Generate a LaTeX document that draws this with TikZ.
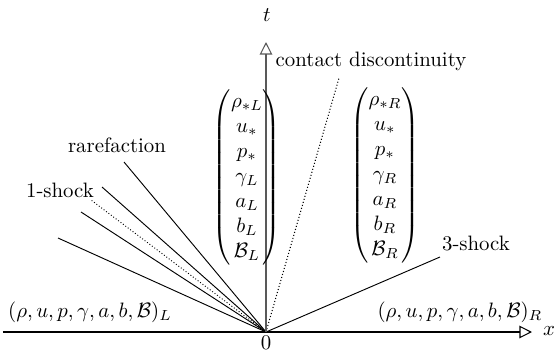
\documentclass[tikz,border=0pt]{standalone}
\usepackage{amsmath,amssymb}
\usepackage{tikz}
\usetikzlibrary{arrows,arrows.meta,calc,positioning}

\tikzset{
    axis/.style={-{Triangle[open,length=6pt,width=6pt]}, line width=0.5pt},
    wave/.style={line width=0.45pt},
    contact/.style={densely dotted, line width=0.5pt},
    state/.style={inner sep=0pt, outer sep=0pt}
}

\begin{document}
\begin{tikzpicture}[x=0.48pt,y=-0.48pt]
        \useasboundingbox (0,0) rectangle (559,352);
        \coordinate (O) at (266,332);
        \coordinate (xl) at (3,332);
        \coordinate (xr) at (532,332);
        \coordinate (tt) at (266,42);
        % waves
        \foreach \name/\px/\py in {s1/58/238, r1/81/212, r2/102/187, r3/124/162} {
            \coordinate (\name) at (\px,\py);
            \draw[wave] (O) -- (\name);
        }
        \coordinate (r0) at (91,200);
        \draw[densely dotted, line width=0.45pt] (O) -- (r0);
        \coordinate (cd) at (339,78);
        \draw[contact] (O) -- (cd);
        \coordinate (s3) at (440,257);
        \draw[wave] (O) -- (s3);
        % axes
        \draw[axis] (xl) -- (xr);
        \draw[axis, gray!70!black] (O) -- (tt);
        \node[state] (xlab) at (549,331) {$x$};
        \node[state] (tlab) at (267,15) {$t$};
        \node[state] (zero) at (266,343) {$0$};
        % states
        \node[state] (starL) at (247,177.5)
            {$\setlength{\arraycolsep}{3pt}\begin{pmatrix}\rho_{*L}\\ u_*\\ p_*\\ \gamma_L\\ a_L\\ b_L\\ \mathcal{B}_L\end{pmatrix}$};
        \node[state] (starR) at (385,175.5)
            {$\setlength{\arraycolsep}{3pt}\begin{pmatrix}\rho_{*R}\\ u_*\\ p_*\\ \gamma_R\\ a_R\\ b_R\\ \mathcal{B}_R\end{pmatrix}$};
        \node[state] (left) at (90,312) {$(\rho,u,p,\gamma,a,b,\mathcal{B})_L$};
        \node[state] (right) at (460,312) {$(\rho,u,p,\gamma,a,b,\mathcal{B})_R$};
        % labels
        \node[state] (rare) at (117,145) {rarefaction};
        \node[state] (shock1) at (60,190) {1-shock};
        \node[state] (shock3) at (476,243) {3-shock};
        \node[state] (contlab) at (371,61) {contact discontinuity};
    \end{tikzpicture}
\end{document}
